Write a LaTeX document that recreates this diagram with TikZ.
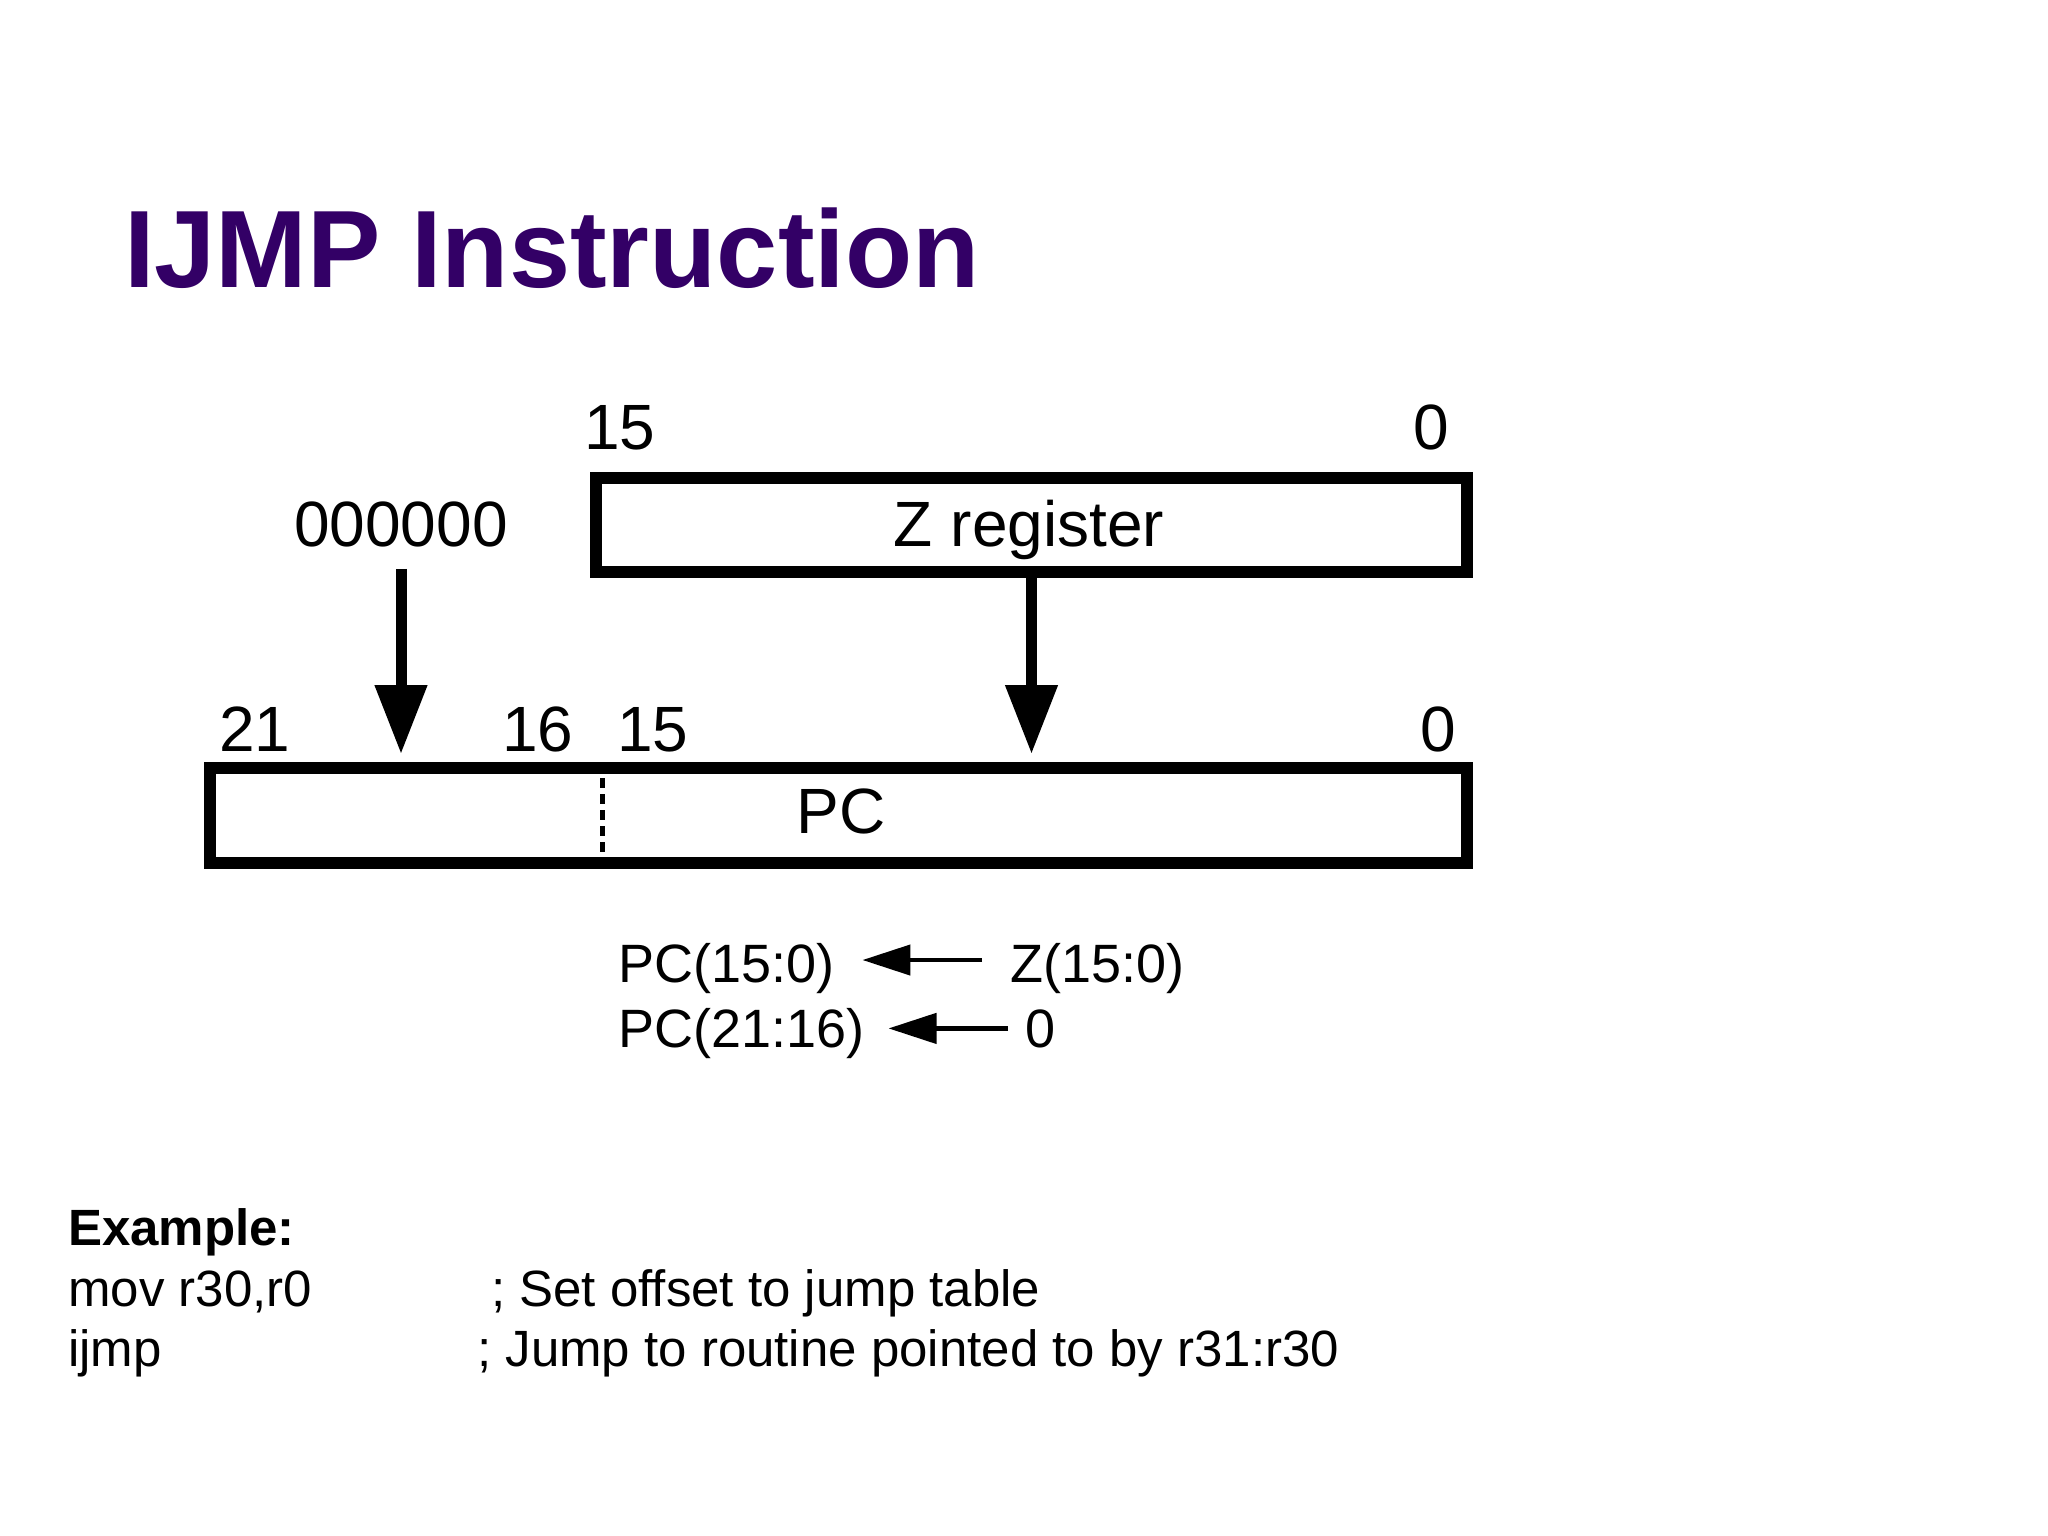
\documentclass[tikz,border=0pt]{standalone}
\usepackage{fontspec}
\setmainfont{Liberation Sans}
\usetikzlibrary{arrows.meta}
\definecolor{titlecol}{RGB}{51,0,102}
\begin{document}
\begin{tikzpicture}[x=1pt,y=-1pt,
  lbl/.style={inner sep=0pt, anchor=base, font=\fontsize{64}{70}\selectfont},
  eq/.style={inner sep=0pt, anchor=base west, font=\fontsize{54}{60}\selectfont},
  ex/.style={inner sep=0pt, anchor=base west, font=\fontsize{51}{58}\selectfont},
  regbox/.style={draw, line width=12pt, inner sep=0pt},
  bigarrow/.style={line width=11pt, -{Triangle[length=69pt,width=50pt]}},
  smallarrow/.style={line width=4.5pt, -{Triangle[length=48pt,width=30pt]}},
]
\useasboundingbox[fill=white] (0,0) rectangle (2048,1536);

% title
\node[anchor=base west, inner sep=0pt, font=\fontsize{110}{120}\selectfont\bfseries, text=titlecol] (title) at (124,287) {IJMP Instruction};

% Z register
\node[regbox, minimum width=871pt, minimum height=94pt] (zreg) at (1031.5,525) {};
\node[lbl] (ztext) at (1029,546) {Z register};
\node[lbl] (z15) at (620,449) {15};
\node[lbl] (z0) at (1431,449) {0};
\node[lbl] (zero) at (401,546) {000000};

% PC
\node[regbox, minimum width=1257pt, minimum height=95pt] (pc) at (838.5,815.5) {};
\node[lbl] (pctext) at (841,833) {PC};
\node[lbl] (p21) at (255,751) {21};
\node[lbl] (p16) at (538,751) {16};
\node[lbl] (p15) at (653,751) {15};
\node[lbl] (p0) at (1438,751) {0};
\coordinate (dv) at (602,815);
\draw[line width=5pt, dash pattern=on 10pt off 6pt] (dv |- pc.north) -- (dv |- pc.south);

% arrows into PC
\draw[bigarrow, shorten >=8pt] ([yshift=-22pt]zero.south) -- (zero.south |- pc.north);
\draw[bigarrow, shorten >=8pt] (zreg.south) -- (zreg.south |- pc.north);

% transfer equations
\node[eq] (pc1) at (618,982) {PC(15:0)};
\node[eq] (z1) at (1010,982) {Z(15:0)};
\node[eq] (pc2) at (618,1047) {PC(21:16)};
\node[eq] (zero2) at (1025,1047) {0};
\draw[smallarrow, shorten <=28pt, shorten >=28pt] ([yshift=8pt]z1.west) -- ([yshift=8pt]pc1.east);
\draw[smallarrow, shorten <=17pt, shorten >=24pt] (zero2.west) -- (zero2.west -| pc2.east);

% example
\node[ex, font=\fontsize{51}{58}\selectfont\bfseries] (exh) at (68,1245) {Example:};
\node[ex] (l1a) at (68,1306) {mov r30,r0};
\node[ex] (l1b) at (491,1306) {; Set offset to jump table};
\node[ex] (l2a) at (68,1366) {ijmp};
\node[ex] (l2b) at (477,1366) {; Jump to routine pointed to by r31:r30};
\end{tikzpicture}
\end{document}
